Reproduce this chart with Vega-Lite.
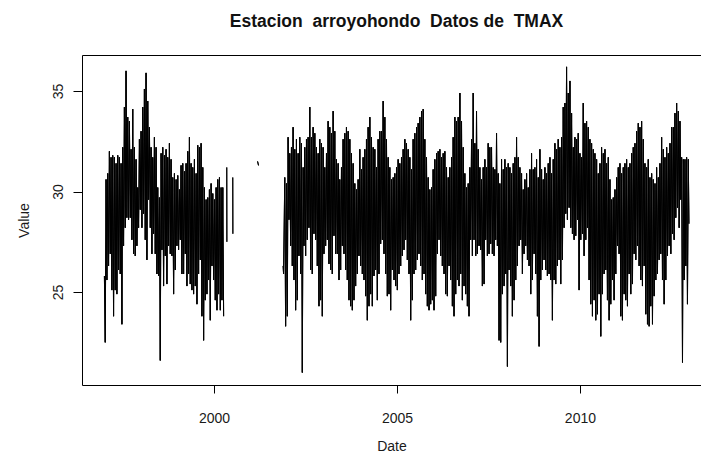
{
  "$schema": "https://vega.github.io/schema/vega-lite/v6.json",
  "width": 619,
  "height": 330,
  "autosize": {"type": "none"},
  "padding": {"left": 82, "top": 55, "right": 0, "bottom": 72},
  "background": "white",
  "config": {"view": {"stroke": null}, "font": "Liberation Sans"},
  "title": {
    "text": "Estacion\u00a0 arroyohondo\u00a0 Datos de\u00a0 TMAX",
    "font": "Liberation Sans",
    "fontSize": 17.5,
    "fontWeight": "bold",
    "color": "#111111",
    "anchor": "middle",
    "dx": 5,
    "offset": 25
  },
  "data": {
    "values": [
      {"t":1997.003,"v":25.8,"s":1},{"t":1997.026,"v":22.5,"s":1},
      {"t":1997.049,"v":30.6,"s":1},{"t":1997.072,"v":25.6,"s":1},
      {"t":1997.094,"v":30.9,"s":1},{"t":1997.117,"v":26.3,"s":1},
      {"t":1997.140,"v":32.0,"s":1},{"t":1997.163,"v":26.9,"s":1},
      {"t":1997.185,"v":31.7,"s":1},{"t":1997.208,"v":25.1,"s":1},
      {"t":1997.231,"v":31.8,"s":1},{"t":1997.254,"v":23.8,"s":1},
      {"t":1997.276,"v":31.7,"s":1},{"t":1997.299,"v":25.1,"s":1},
      {"t":1997.322,"v":31.4,"s":1},{"t":1997.345,"v":24.9,"s":1},
      {"t":1997.368,"v":31.8,"s":1},{"t":1997.391,"v":26.1,"s":1},
      {"t":1997.413,"v":31.7,"s":1},{"t":1997.436,"v":25.9,"s":1},
      {"t":1997.459,"v":31.4,"s":1},{"t":1997.482,"v":23.4,"s":1},
      {"t":1997.504,"v":32.2,"s":1},{"t":1997.527,"v":27.3,"s":1},
      {"t":1997.550,"v":34.2,"s":1},{"t":1997.573,"v":28.2,"s":1},
      {"t":1997.595,"v":36.0,"s":1},{"t":1997.618,"v":28.7,"s":1},
      {"t":1997.641,"v":33.7,"s":1},{"t":1997.664,"v":28.6,"s":1},
      {"t":1997.687,"v":33.5,"s":1},{"t":1997.710,"v":28.7,"s":1},
      {"t":1997.732,"v":32.1,"s":1},{"t":1997.755,"v":27.6,"s":1},
      {"t":1997.778,"v":34.1,"s":1},{"t":1997.801,"v":26.9,"s":1},
      {"t":1997.823,"v":32.2,"s":1},{"t":1997.846,"v":26.8,"s":1},
      {"t":1997.869,"v":31.6,"s":1},{"t":1997.892,"v":27.3,"s":1},
      {"t":1997.915,"v":30.2,"s":1},{"t":1997.938,"v":28.2,"s":1},
      {"t":1997.960,"v":32.6,"s":1},{"t":1997.983,"v":29.1,"s":1},
      {"t":1998.006,"v":33.0,"s":1},{"t":1998.029,"v":28.2,"s":1},
      {"t":1998.051,"v":34.2,"s":1},{"t":1998.074,"v":28.9,"s":1},
      {"t":1998.097,"v":35.1,"s":1},{"t":1998.120,"v":27.6,"s":1},
      {"t":1998.142,"v":35.9,"s":1},{"t":1998.165,"v":26.6,"s":1},
      {"t":1998.188,"v":34.5,"s":1},{"t":1998.211,"v":29.6,"s":1},
      {"t":1998.234,"v":33.2,"s":1},{"t":1998.257,"v":28.2,"s":1},
      {"t":1998.279,"v":32.2,"s":1},{"t":1998.302,"v":26.9,"s":1},
      {"t":1998.325,"v":31.7,"s":1},{"t":1998.348,"v":27.9,"s":1},
      {"t":1998.370,"v":32.7,"s":1},{"t":1998.393,"v":26.9,"s":1},
      {"t":1998.416,"v":32.2,"s":1},{"t":1998.439,"v":25.9,"s":1},
      {"t":1998.461,"v":30.2,"s":1},{"t":1998.484,"v":25.8,"s":1},
      {"t":1998.507,"v":29.7,"s":1},{"t":1998.530,"v":21.6,"s":1},
      {"t":1998.553,"v":31.9,"s":1},{"t":1998.576,"v":27.1,"s":1},
      {"t":1998.598,"v":32.2,"s":1},{"t":1998.621,"v":25.3,"s":1},
      {"t":1998.644,"v":31.8,"s":1},{"t":1998.667,"v":26.8,"s":1},
      {"t":1998.689,"v":32.1,"s":1},{"t":1998.712,"v":25.4,"s":1},
      {"t":1998.735,"v":31.7,"s":1},{"t":1998.758,"v":27.3,"s":1},
      {"t":1998.780,"v":32.4,"s":1},{"t":1998.803,"v":26.9,"s":1},
      {"t":1998.826,"v":31.6,"s":1},{"t":1998.849,"v":26.8,"s":1},
      {"t":1998.872,"v":30.7,"s":1},{"t":1998.895,"v":24.9,"s":1},
      {"t":1998.917,"v":30.9,"s":1},{"t":1998.940,"v":26.1,"s":1},
      {"t":1998.963,"v":30.6,"s":1},{"t":1998.986,"v":27.3,"s":1},
      {"t":1999.008,"v":30.8,"s":1},{"t":1999.031,"v":27.1,"s":1},
      {"t":1999.054,"v":30.1,"s":1},{"t":1999.077,"v":27.6,"s":1},
      {"t":1999.099,"v":31.3,"s":1},{"t":1999.122,"v":25.9,"s":1},
      {"t":1999.145,"v":31.4,"s":1},{"t":1999.168,"v":25.9,"s":1},
      {"t":1999.191,"v":31.0,"s":1},{"t":1999.214,"v":26.9,"s":1},
      {"t":1999.236,"v":31.4,"s":1},{"t":1999.259,"v":25.3,"s":1},
      {"t":1999.282,"v":32.0,"s":1},{"t":1999.305,"v":25.9,"s":1},
      {"t":1999.327,"v":32.7,"s":1},{"t":1999.350,"v":25.4,"s":1},
      {"t":1999.373,"v":31.4,"s":1},{"t":1999.396,"v":25.1,"s":1},
      {"t":1999.418,"v":31.2,"s":1},{"t":1999.441,"v":24.9,"s":1},
      {"t":1999.464,"v":31.6,"s":1},{"t":1999.487,"v":25.3,"s":1},
      {"t":1999.510,"v":30.9,"s":1},{"t":1999.533,"v":24.4,"s":1},
      {"t":1999.555,"v":32.3,"s":1},{"t":1999.578,"v":25.9,"s":1},
      {"t":1999.601,"v":32.2,"s":1},{"t":1999.624,"v":26.6,"s":1},
      {"t":1999.646,"v":32.4,"s":1},{"t":1999.669,"v":23.8,"s":1},
      {"t":1999.692,"v":31.2,"s":1},{"t":1999.715,"v":22.6,"s":1},
      {"t":1999.737,"v":30.2,"s":1},{"t":1999.760,"v":24.6,"s":1},
      {"t":1999.783,"v":29.6,"s":1},{"t":1999.806,"v":24.9,"s":1},
      {"t":1999.829,"v":29.7,"s":1},{"t":1999.852,"v":25.6,"s":1},
      {"t":1999.874,"v":30.1,"s":1},{"t":1999.897,"v":23.6,"s":1},
      {"t":1999.920,"v":30.4,"s":1},{"t":1999.943,"v":26.3,"s":1},
      {"t":1999.965,"v":29.9,"s":1},{"t":1999.988,"v":25.6,"s":1},
      {"t":2000.011,"v":29.6,"s":1},{"t":2000.034,"v":24.6,"s":1},
      {"t":2000.057,"v":30.2,"s":1},{"t":2000.080,"v":24.1,"s":1},
      {"t":2000.102,"v":30.6,"s":1},{"t":2000.125,"v":24.9,"s":1},
      {"t":2000.148,"v":30.7,"s":1},{"t":2000.171,"v":24.1,"s":1},
      {"t":2000.193,"v":30.2,"s":1},{"t":2000.216,"v":24.6,"s":1},
      {"t":2000.239,"v":30.2,"s":1},{"t":2000.262,"v":23.8,"s":1},
      {"t":2000.348,"v":31.2,"s":2},{"t":2000.351,"v":27.5,"s":2},
      {"t":2000.512,"v":30.7,"s":3},{"t":2000.515,"v":27.9,"s":3},
      {"t":2001.190,"v":31.5,"s":4},{"t":2001.215,"v":31.3,"s":4},
      {"t":2001.888,"v":26.3,"s":5},{"t":2001.900,"v":25.9,"s":5},
      {"t":2001.933,"v":30.7,"s":5},{"t":2001.956,"v":23.3,"s":5},
      {"t":2001.979,"v":30.4,"s":5},{"t":2002.002,"v":23.8,"s":5},
      {"t":2002.024,"v":32.7,"s":5},{"t":2002.047,"v":28.6,"s":5},
      {"t":2002.070,"v":31.9,"s":5},{"t":2002.093,"v":27.3,"s":5},
      {"t":2002.116,"v":32.2,"s":5},{"t":2002.139,"v":26.3,"s":5},
      {"t":2002.161,"v":33.2,"s":5},{"t":2002.184,"v":25.6,"s":5},
      {"t":2002.207,"v":32.1,"s":5},{"t":2002.230,"v":24.1,"s":5},
      {"t":2002.252,"v":32.6,"s":5},{"t":2002.275,"v":24.6,"s":5},
      {"t":2002.298,"v":31.9,"s":5},{"t":2002.321,"v":26.8,"s":5},
      {"t":2002.343,"v":32.7,"s":5},{"t":2002.366,"v":25.9,"s":5},
      {"t":2002.389,"v":32.4,"s":5},{"t":2002.412,"v":21.0,"s":5},
      {"t":2002.435,"v":31.2,"s":5},{"t":2002.458,"v":27.3,"s":5},
      {"t":2002.480,"v":32.2,"s":5},{"t":2002.503,"v":26.8,"s":5},
      {"t":2002.526,"v":32.6,"s":5},{"t":2002.549,"v":27.6,"s":5},
      {"t":2002.571,"v":32.7,"s":5},{"t":2002.594,"v":28.2,"s":5},
      {"t":2002.617,"v":34.2,"s":5},{"t":2002.640,"v":26.1,"s":5},
      {"t":2002.662,"v":32.7,"s":5},{"t":2002.685,"v":25.9,"s":5},
      {"t":2002.708,"v":33.2,"s":5},{"t":2002.731,"v":27.9,"s":5},
      {"t":2002.754,"v":32.9,"s":5},{"t":2002.777,"v":27.6,"s":5},
      {"t":2002.799,"v":32.2,"s":5},{"t":2002.822,"v":26.3,"s":5},
      {"t":2002.845,"v":31.9,"s":5},{"t":2002.868,"v":24.3,"s":5},
      {"t":2002.890,"v":32.6,"s":5},{"t":2002.913,"v":24.6,"s":5},
      {"t":2002.936,"v":32.4,"s":5},{"t":2002.959,"v":23.8,"s":5},
      {"t":2002.981,"v":32.2,"s":5},{"t":2003.004,"v":26.9,"s":5},
      {"t":2003.027,"v":31.2,"s":5},{"t":2003.050,"v":27.3,"s":5},
      {"t":2003.073,"v":31.9,"s":5},{"t":2003.096,"v":27.6,"s":5},
      {"t":2003.118,"v":33.5,"s":5},{"t":2003.141,"v":26.4,"s":5},
      {"t":2003.164,"v":33.2,"s":5},{"t":2003.187,"v":26.1,"s":5},
      {"t":2003.209,"v":32.9,"s":5},{"t":2003.232,"v":25.9,"s":5},
      {"t":2003.255,"v":34.0,"s":5},{"t":2003.278,"v":27.8,"s":5},
      {"t":2003.300,"v":33.0,"s":5},{"t":2003.323,"v":26.9,"s":5},
      {"t":2003.346,"v":31.6,"s":5},{"t":2003.369,"v":26.9,"s":5},
      {"t":2003.392,"v":31.4,"s":5},{"t":2003.415,"v":25.6,"s":5},
      {"t":2003.437,"v":30.6,"s":5},{"t":2003.460,"v":26.1,"s":5},
      {"t":2003.483,"v":31.2,"s":5},{"t":2003.506,"v":27.3,"s":5},
      {"t":2003.528,"v":32.6,"s":5},{"t":2003.551,"v":26.9,"s":5},
      {"t":2003.574,"v":32.9,"s":5},{"t":2003.597,"v":26.1,"s":5},
      {"t":2003.619,"v":33.2,"s":5},{"t":2003.642,"v":25.6,"s":5},
      {"t":2003.665,"v":33.0,"s":5},{"t":2003.688,"v":24.6,"s":5},
      {"t":2003.711,"v":32.6,"s":5},{"t":2003.734,"v":24.3,"s":5},
      {"t":2003.756,"v":31.9,"s":5},{"t":2003.779,"v":24.1,"s":5},
      {"t":2003.802,"v":31.4,"s":5},{"t":2003.825,"v":24.6,"s":5},
      {"t":2003.847,"v":30.4,"s":5},{"t":2003.870,"v":25.3,"s":5},
      {"t":2003.893,"v":30.1,"s":5},{"t":2003.916,"v":25.9,"s":5},
      {"t":2003.938,"v":30.6,"s":5},{"t":2003.961,"v":26.8,"s":5},
      {"t":2003.984,"v":32.1,"s":5},{"t":2004.007,"v":26.3,"s":5},
      {"t":2004.030,"v":31.1,"s":5},{"t":2004.053,"v":25.9,"s":5},
      {"t":2004.075,"v":31.7,"s":5},{"t":2004.098,"v":25.6,"s":5},
      {"t":2004.121,"v":32.1,"s":5},{"t":2004.144,"v":24.8,"s":5},
      {"t":2004.166,"v":32.6,"s":5},{"t":2004.189,"v":23.6,"s":5},
      {"t":2004.212,"v":33.2,"s":5},{"t":2004.235,"v":24.3,"s":5},
      {"t":2004.258,"v":33.7,"s":5},{"t":2004.281,"v":24.9,"s":5},
      {"t":2004.303,"v":32.7,"s":5},{"t":2004.326,"v":24.3,"s":5},
      {"t":2004.349,"v":32.2,"s":5},{"t":2004.372,"v":25.8,"s":5},
      {"t":2004.394,"v":32.1,"s":5},{"t":2004.417,"v":26.1,"s":5},
      {"t":2004.440,"v":31.2,"s":5},{"t":2004.463,"v":24.6,"s":5},
      {"t":2004.485,"v":32.6,"s":5},{"t":2004.508,"v":25.9,"s":5},
      {"t":2004.531,"v":33.0,"s":5},{"t":2004.554,"v":27.4,"s":5},
      {"t":2004.577,"v":33.0,"s":5},{"t":2004.600,"v":27.6,"s":5},
      {"t":2004.622,"v":34.5,"s":5},{"t":2004.645,"v":26.9,"s":5},
      {"t":2004.668,"v":33.7,"s":5},{"t":2004.691,"v":25.9,"s":5},
      {"t":2004.713,"v":32.6,"s":5},{"t":2004.736,"v":24.8,"s":5},
      {"t":2004.759,"v":31.7,"s":5},{"t":2004.782,"v":24.9,"s":5},
      {"t":2004.804,"v":31.2,"s":5},{"t":2004.827,"v":24.1,"s":5},
      {"t":2004.850,"v":30.6,"s":5},{"t":2004.873,"v":26.1,"s":5},
      {"t":2004.896,"v":30.7,"s":5},{"t":2004.919,"v":25.6,"s":5},
      {"t":2004.941,"v":30.9,"s":5},{"t":2004.964,"v":25.3,"s":5},
      {"t":2004.987,"v":31.2,"s":5},{"t":2005.010,"v":25.1,"s":5},
      {"t":2005.032,"v":31.6,"s":5},{"t":2005.055,"v":25.9,"s":5},
      {"t":2005.078,"v":31.4,"s":5},{"t":2005.101,"v":26.3,"s":5},
      {"t":2005.123,"v":31.7,"s":5},{"t":2005.146,"v":26.8,"s":5},
      {"t":2005.169,"v":32.1,"s":5},{"t":2005.192,"v":27.1,"s":5},
      {"t":2005.215,"v":32.6,"s":5},{"t":2005.238,"v":27.6,"s":5},
      {"t":2005.260,"v":32.4,"s":5},{"t":2005.283,"v":26.6,"s":5},
      {"t":2005.306,"v":32.1,"s":5},{"t":2005.329,"v":25.9,"s":5},
      {"t":2005.351,"v":31.7,"s":5},{"t":2005.374,"v":23.6,"s":5},
      {"t":2005.397,"v":31.1,"s":5},{"t":2005.420,"v":24.6,"s":5},
      {"t":2005.442,"v":32.6,"s":5},{"t":2005.465,"v":25.9,"s":5},
      {"t":2005.488,"v":32.9,"s":5},{"t":2005.511,"v":26.1,"s":5},
      {"t":2005.534,"v":33.2,"s":5},{"t":2005.557,"v":26.6,"s":5},
      {"t":2005.579,"v":33.4,"s":5},{"t":2005.602,"v":26.9,"s":5},
      {"t":2005.625,"v":33.7,"s":5},{"t":2005.648,"v":26.3,"s":5},
      {"t":2005.670,"v":34.0,"s":5},{"t":2005.693,"v":25.6,"s":5},
      {"t":2005.716,"v":34.1,"s":5},{"t":2005.739,"v":25.9,"s":5},
      {"t":2005.761,"v":32.6,"s":5},{"t":2005.784,"v":24.9,"s":5},
      {"t":2005.807,"v":31.7,"s":5},{"t":2005.830,"v":24.3,"s":5},
      {"t":2005.853,"v":30.7,"s":5},{"t":2005.876,"v":24.1,"s":5},
      {"t":2005.898,"v":30.1,"s":5},{"t":2005.921,"v":24.4,"s":5},
      {"t":2005.944,"v":30.2,"s":5},{"t":2005.967,"v":24.6,"s":5},
      {"t":2005.989,"v":31.1,"s":5},{"t":2006.012,"v":24.1,"s":5},
      {"t":2006.035,"v":31.6,"s":5},{"t":2006.058,"v":24.8,"s":5},
      {"t":2006.081,"v":31.9,"s":5},{"t":2006.104,"v":26.9,"s":5},
      {"t":2006.126,"v":32.0,"s":5},{"t":2006.149,"v":27.6,"s":5},
      {"t":2006.172,"v":32.1,"s":5},{"t":2006.195,"v":26.8,"s":5},
      {"t":2006.217,"v":31.7,"s":5},{"t":2006.240,"v":26.3,"s":5},
      {"t":2006.263,"v":31.9,"s":5},{"t":2006.286,"v":25.9,"s":5},
      {"t":2006.308,"v":32.0,"s":5},{"t":2006.331,"v":24.9,"s":5},
      {"t":2006.354,"v":31.2,"s":5},{"t":2006.377,"v":24.8,"s":5},
      {"t":2006.400,"v":30.7,"s":5},{"t":2006.423,"v":26.3,"s":5},
      {"t":2006.445,"v":31.2,"s":5},{"t":2006.468,"v":25.6,"s":5},
      {"t":2006.491,"v":31.7,"s":5},{"t":2006.514,"v":24.3,"s":5},
      {"t":2006.536,"v":32.7,"s":5},{"t":2006.559,"v":23.8,"s":5},
      {"t":2006.582,"v":33.7,"s":5},{"t":2006.605,"v":24.9,"s":5},
      {"t":2006.627,"v":33.5,"s":5},{"t":2006.650,"v":25.6,"s":5},
      {"t":2006.673,"v":33.7,"s":5},{"t":2006.696,"v":25.3,"s":5},
      {"t":2006.719,"v":34.9,"s":5},{"t":2006.742,"v":25.9,"s":5},
      {"t":2006.764,"v":33.5,"s":5},{"t":2006.787,"v":24.6,"s":5},
      {"t":2006.810,"v":32.2,"s":5},{"t":2006.833,"v":25.3,"s":5},
      {"t":2006.855,"v":30.9,"s":5},{"t":2006.878,"v":24.9,"s":5},
      {"t":2006.901,"v":30.2,"s":5},{"t":2006.924,"v":24.3,"s":5},
      {"t":2006.946,"v":30.4,"s":5},{"t":2006.969,"v":23.8,"s":5},
      {"t":2006.992,"v":31.2,"s":5},{"t":2007.015,"v":27.6,"s":5},
      {"t":2007.038,"v":32.6,"s":5},{"t":2007.061,"v":26.8,"s":5},
      {"t":2007.083,"v":34.9,"s":5},{"t":2007.106,"v":27.6,"s":5},
      {"t":2007.129,"v":32.4,"s":5},{"t":2007.152,"v":26.8,"s":5},
      {"t":2007.174,"v":34.0,"s":5},{"t":2007.197,"v":26.9,"s":5},
      {"t":2007.220,"v":32.1,"s":5},{"t":2007.243,"v":27.3,"s":5},
      {"t":2007.265,"v":31.2,"s":5},{"t":2007.288,"v":27.1,"s":5},
      {"t":2007.311,"v":30.6,"s":5},{"t":2007.334,"v":25.3,"s":5},
      {"t":2007.357,"v":31.2,"s":5},{"t":2007.380,"v":25.4,"s":5},
      {"t":2007.402,"v":31.6,"s":5},{"t":2007.425,"v":27.6,"s":5},
      {"t":2007.448,"v":31.2,"s":5},{"t":2007.471,"v":26.8,"s":5},
      {"t":2007.493,"v":32.4,"s":5},{"t":2007.516,"v":26.9,"s":5},
      {"t":2007.539,"v":32.2,"s":5},{"t":2007.562,"v":27.4,"s":5},
      {"t":2007.584,"v":32.2,"s":5},{"t":2007.607,"v":26.9,"s":5},
      {"t":2007.630,"v":31.2,"s":5},{"t":2007.653,"v":26.8,"s":5},
      {"t":2007.676,"v":31.1,"s":5},{"t":2007.699,"v":27.6,"s":5},
      {"t":2007.721,"v":32.9,"s":5},{"t":2007.744,"v":27.3,"s":5},
      {"t":2007.767,"v":30.9,"s":5},{"t":2007.790,"v":22.6,"s":5},
      {"t":2007.812,"v":30.4,"s":5},{"t":2007.835,"v":22.5,"s":5},
      {"t":2007.858,"v":31.6,"s":5},{"t":2007.881,"v":24.9,"s":5},
      {"t":2007.904,"v":31.1,"s":5},{"t":2007.927,"v":25.3,"s":5},
      {"t":2007.949,"v":31.6,"s":5},{"t":2007.972,"v":25.9,"s":5},
      {"t":2007.995,"v":31.2,"s":5},{"t":2008.018,"v":21.3,"s":5},
      {"t":2008.040,"v":31.4,"s":5},{"t":2008.063,"v":26.1,"s":5},
      {"t":2008.086,"v":31.2,"s":5},{"t":2008.109,"v":25.3,"s":5},
      {"t":2008.131,"v":30.9,"s":5},{"t":2008.154,"v":23.8,"s":5},
      {"t":2008.177,"v":31.4,"s":5},{"t":2008.200,"v":24.6,"s":5},
      {"t":2008.223,"v":31.7,"s":5},{"t":2008.246,"v":25.6,"s":5},
      {"t":2008.268,"v":32.7,"s":5},{"t":2008.291,"v":26.3,"s":5},
      {"t":2008.314,"v":31.7,"s":5},{"t":2008.337,"v":27.3,"s":5},
      {"t":2008.359,"v":31.2,"s":5},{"t":2008.382,"v":27.6,"s":5},
      {"t":2008.405,"v":30.9,"s":5},{"t":2008.428,"v":25.9,"s":5},
      {"t":2008.450,"v":30.1,"s":5},{"t":2008.473,"v":26.9,"s":5},
      {"t":2008.496,"v":30.6,"s":5},{"t":2008.519,"v":27.3,"s":5},
      {"t":2008.542,"v":30.9,"s":5},{"t":2008.565,"v":26.6,"s":5},
      {"t":2008.587,"v":30.2,"s":5},{"t":2008.610,"v":26.3,"s":5},
      {"t":2008.633,"v":31.1,"s":5},{"t":2008.656,"v":24.9,"s":5},
      {"t":2008.678,"v":31.9,"s":5},{"t":2008.701,"v":25.6,"s":5},
      {"t":2008.724,"v":31.1,"s":5},{"t":2008.747,"v":26.9,"s":5},
      {"t":2008.769,"v":31.2,"s":5},{"t":2008.792,"v":25.9,"s":5},
      {"t":2008.815,"v":31.6,"s":5},{"t":2008.838,"v":23.8,"s":5},
      {"t":2008.861,"v":30.7,"s":5},{"t":2008.884,"v":22.3,"s":5},
      {"t":2008.906,"v":32.1,"s":5},{"t":2008.929,"v":25.6,"s":5},
      {"t":2008.952,"v":31.1,"s":5},{"t":2008.975,"v":26.1,"s":5},
      {"t":2008.997,"v":30.6,"s":5},{"t":2009.020,"v":26.6,"s":5},
      {"t":2009.043,"v":31.2,"s":5},{"t":2009.066,"v":26.1,"s":5},
      {"t":2009.088,"v":30.9,"s":5},{"t":2009.111,"v":25.8,"s":5},
      {"t":2009.134,"v":31.4,"s":5},{"t":2009.157,"v":25.9,"s":5},
      {"t":2009.180,"v":31.7,"s":5},{"t":2009.203,"v":25.6,"s":5},
      {"t":2009.225,"v":30.9,"s":5},{"t":2009.248,"v":23.6,"s":5},
      {"t":2009.271,"v":31.6,"s":5},{"t":2009.294,"v":25.6,"s":5},
      {"t":2009.316,"v":32.4,"s":5},{"t":2009.339,"v":25.4,"s":5},
      {"t":2009.362,"v":32.1,"s":5},{"t":2009.385,"v":26.3,"s":5},
      {"t":2009.407,"v":32.6,"s":5},{"t":2009.430,"v":26.6,"s":5},
      {"t":2009.453,"v":32.2,"s":5},{"t":2009.476,"v":25.4,"s":5},
      {"t":2009.499,"v":32.7,"s":5},{"t":2009.522,"v":26.6,"s":5},
      {"t":2009.544,"v":34.2,"s":5},{"t":2009.567,"v":28.2,"s":5},
      {"t":2009.590,"v":34.4,"s":5},{"t":2009.613,"v":28.9,"s":5},
      {"t":2009.635,"v":36.2,"s":5},{"t":2009.658,"v":28.6,"s":5},
      {"t":2009.681,"v":34.9,"s":5},{"t":2009.704,"v":29.2,"s":5},
      {"t":2009.727,"v":35.5,"s":5},{"t":2009.750,"v":28.2,"s":5},
      {"t":2009.772,"v":33.9,"s":5},{"t":2009.795,"v":27.9,"s":5},
      {"t":2009.818,"v":32.2,"s":5},{"t":2009.841,"v":27.6,"s":5},
      {"t":2009.863,"v":32.7,"s":5},{"t":2009.886,"v":27.8,"s":5},
      {"t":2009.909,"v":32.6,"s":5},{"t":2009.932,"v":28.6,"s":5},
      {"t":2009.954,"v":32.9,"s":5},{"t":2009.977,"v":25.1,"s":5},
      {"t":2010.000,"v":31.9,"s":5},{"t":2010.023,"v":27.6,"s":5},
      {"t":2010.046,"v":31.7,"s":5},{"t":2010.069,"v":27.9,"s":5},
      {"t":2010.091,"v":34.4,"s":5},{"t":2010.114,"v":26.8,"s":5},
      {"t":2010.137,"v":33.4,"s":5},{"t":2010.160,"v":27.6,"s":5},
      {"t":2010.182,"v":33.5,"s":5},{"t":2010.205,"v":28.2,"s":5},
      {"t":2010.228,"v":33.2,"s":5},{"t":2010.251,"v":25.6,"s":5},
      {"t":2010.273,"v":32.6,"s":5},{"t":2010.296,"v":24.4,"s":5},
      {"t":2010.319,"v":32.4,"s":5},{"t":2010.342,"v":23.8,"s":5},
      {"t":2010.365,"v":32.1,"s":5},{"t":2010.388,"v":24.6,"s":5},
      {"t":2010.410,"v":31.9,"s":5},{"t":2010.433,"v":23.6,"s":5},
      {"t":2010.456,"v":31.6,"s":5},{"t":2010.479,"v":23.9,"s":5},
      {"t":2010.501,"v":30.9,"s":5},{"t":2010.524,"v":24.9,"s":5},
      {"t":2010.547,"v":31.4,"s":5},{"t":2010.570,"v":22.8,"s":5},
      {"t":2010.592,"v":32.2,"s":5},{"t":2010.615,"v":24.9,"s":5},
      {"t":2010.638,"v":31.9,"s":5},{"t":2010.661,"v":25.9,"s":5},
      {"t":2010.684,"v":32.1,"s":5},{"t":2010.707,"v":26.1,"s":5},
      {"t":2010.729,"v":31.4,"s":5},{"t":2010.752,"v":24.6,"s":5},
      {"t":2010.775,"v":31.7,"s":5},{"t":2010.798,"v":23.6,"s":5},
      {"t":2010.820,"v":30.6,"s":5},{"t":2010.843,"v":24.4,"s":5},
      {"t":2010.866,"v":29.6,"s":5},{"t":2010.889,"v":25.6,"s":5},
      {"t":2010.911,"v":29.7,"s":5},{"t":2010.934,"v":24.6,"s":5},
      {"t":2010.957,"v":30.1,"s":5},{"t":2010.980,"v":25.9,"s":5},
      {"t":2011.003,"v":30.7,"s":5},{"t":2011.026,"v":27.3,"s":5},
      {"t":2011.048,"v":31.2,"s":5},{"t":2011.071,"v":26.9,"s":5},
      {"t":2011.094,"v":31.4,"s":5},{"t":2011.117,"v":23.8,"s":5},
      {"t":2011.139,"v":30.9,"s":5},{"t":2011.162,"v":23.6,"s":5},
      {"t":2011.185,"v":31.2,"s":5},{"t":2011.208,"v":24.9,"s":5},
      {"t":2011.230,"v":31.4,"s":5},{"t":2011.253,"v":24.6,"s":5},
      {"t":2011.276,"v":31.6,"s":5},{"t":2011.299,"v":24.3,"s":5},
      {"t":2011.322,"v":31.2,"s":5},{"t":2011.345,"v":25.9,"s":5},
      {"t":2011.367,"v":31.4,"s":5},{"t":2011.390,"v":24.9,"s":5},
      {"t":2011.413,"v":31.9,"s":5},{"t":2011.436,"v":25.4,"s":5},
      {"t":2011.458,"v":32.2,"s":5},{"t":2011.481,"v":26.9,"s":5},
      {"t":2011.504,"v":32.4,"s":5},{"t":2011.527,"v":26.6,"s":5},
      {"t":2011.549,"v":33.0,"s":5},{"t":2011.572,"v":27.3,"s":5},
      {"t":2011.595,"v":33.4,"s":5},{"t":2011.618,"v":26.3,"s":5},
      {"t":2011.641,"v":33.2,"s":5},{"t":2011.664,"v":25.6,"s":5},
      {"t":2011.686,"v":33.5,"s":5},{"t":2011.709,"v":25.3,"s":5},
      {"t":2011.732,"v":32.6,"s":5},{"t":2011.755,"v":26.3,"s":5},
      {"t":2011.777,"v":31.4,"s":5},{"t":2011.800,"v":23.9,"s":5},
      {"t":2011.823,"v":31.2,"s":5},{"t":2011.846,"v":23.4,"s":5},
      {"t":2011.868,"v":31.6,"s":5},{"t":2011.891,"v":23.3,"s":5},
      {"t":2011.914,"v":30.7,"s":5},{"t":2011.937,"v":24.3,"s":5},
      {"t":2011.960,"v":30.9,"s":5},{"t":2011.983,"v":23.4,"s":5},
      {"t":2012.005,"v":30.6,"s":5},{"t":2012.028,"v":24.8,"s":5},
      {"t":2012.051,"v":30.4,"s":5},{"t":2012.074,"v":25.6,"s":5},
      {"t":2012.096,"v":31.2,"s":5},{"t":2012.119,"v":25.9,"s":5},
      {"t":2012.142,"v":30.7,"s":5},{"t":2012.165,"v":26.6,"s":5},
      {"t":2012.187,"v":31.4,"s":5},{"t":2012.210,"v":26.9,"s":5},
      {"t":2012.233,"v":32.7,"s":5},{"t":2012.256,"v":25.6,"s":5},
      {"t":2012.279,"v":32.1,"s":5},{"t":2012.302,"v":24.4,"s":5},
      {"t":2012.324,"v":31.7,"s":5},{"t":2012.347,"v":25.6,"s":5},
      {"t":2012.370,"v":32.2,"s":5},{"t":2012.393,"v":26.8,"s":5},
      {"t":2012.415,"v":31.9,"s":5},{"t":2012.438,"v":27.3,"s":5},
      {"t":2012.461,"v":32.4,"s":5},{"t":2012.484,"v":26.9,"s":5},
      {"t":2012.506,"v":33.2,"s":5},{"t":2012.529,"v":27.9,"s":5},
      {"t":2012.552,"v":33.2,"s":5},{"t":2012.575,"v":27.6,"s":5},
      {"t":2012.597,"v":33.9,"s":5},{"t":2012.620,"v":28.7,"s":5},
      {"t":2012.643,"v":34.4,"s":5},{"t":2012.666,"v":29.2,"s":5},
      {"t":2012.689,"v":34.0,"s":5},{"t":2012.712,"v":28.2,"s":5},
      {"t":2012.734,"v":33.5,"s":5},{"t":2012.757,"v":29.6,"s":5},
      {"t":2012.780,"v":31.7,"s":5},{"t":2012.803,"v":21.5,"s":5},
      {"t":2012.825,"v":31.6,"s":5},{"t":2012.848,"v":25.6,"s":5},
      {"t":2012.871,"v":31.6,"s":5},{"t":2012.894,"v":26.3,"s":5},
      {"t":2012.916,"v":31.7,"s":5},{"t":2012.939,"v":24.4,"s":5},
      {"t":2012.962,"v":31.6,"s":5},{"t":2012.980,"v":28.4,"s":5}
    ]
  },
  "layer": [
    {
      "mark": {"type": "line", "color": "black", "strokeWidth": 1},
      "encoding": {
        "x": {
          "field": "t",
          "type": "quantitative",
          "scale": {"domain": [1996.391, 2013.309], "nice": false, "zero": false},
          "axis": {
            "orient": "bottom",
            "values": [2000, 2005, 2010],
            "format": "d",
            "title": "Date",
            "grid": false,
            "domainColor": "black",
            "tickColor": "black",
            "tickSize": 8,
            "labelPadding": 18,
            "labelBaseline": "top",
            "labelFont": "Liberation Sans",
            "labelFontSize": 14,
            "labelColor": "#1a1a1a",
            "titleFont": "Liberation Sans",
            "titleFontSize": 14,
            "titleFontWeight": "normal",
            "titleColor": "#1a1a1a",
            "titlePadding": 14
          }
        },
        "y": {
          "field": "v",
          "type": "quantitative",
          "scale": {"domain": [20.38, 36.79], "nice": false, "zero": false},
          "axis": {
            "orient": "left",
            "values": [25, 30, 35],
            "title": "Value",
            "grid": false,
            "domainColor": "black",
            "tickColor": "black",
            "tickSize": 9,
            "labelAngle": -90,
            "labelAlign": "center",
            "labelBaseline": "bottom",
            "labelPadding": 8,
            "labelFont": "Liberation Sans",
            "labelFontSize": 14,
            "labelColor": "#1a1a1a",
            "titleFont": "Liberation Sans",
            "titleFontSize": 14,
            "titleFontWeight": "normal",
            "titleColor": "#1a1a1a",
            "titlePadding": 20
          }
        },
        "detail": {"field": "s", "type": "nominal"}
      }
    },
    {
      "mark": {"type": "line", "color": "black", "strokeWidth": 1},
      "encoding": {
        "x": {
          "field": "t",
          "type": "quantitative",
          "scale": {"domain": [1996.391, 2013.309], "nice": false, "zero": false},
          "axis": {"orient": "top", "labels": false, "ticks": false, "title": null, "grid": false, "domainColor": "black"}
        },
        "y": {
          "field": "v",
          "type": "quantitative",
          "scale": {"domain": [20.38, 36.79], "nice": false, "zero": false},
          "axis": {
            "orient": "left",
            "values": [25, 30, 35],
            "title": "Value",
            "grid": false,
            "domainColor": "black",
            "tickColor": "black",
            "tickSize": 9,
            "labelAngle": -90,
            "labelAlign": "center",
            "labelBaseline": "bottom",
            "labelPadding": 8,
            "labelFont": "Liberation Sans",
            "labelFontSize": 14,
            "labelColor": "#1a1a1a",
            "titleFont": "Liberation Sans",
            "titleFontSize": 14,
            "titleFontWeight": "normal",
            "titleColor": "#1a1a1a",
            "titlePadding": 20
          }
        },
        "detail": {"field": "s", "type": "nominal"}
      }
    }
  ],
  "resolve": {"axis": {"x": "independent"}}
}
